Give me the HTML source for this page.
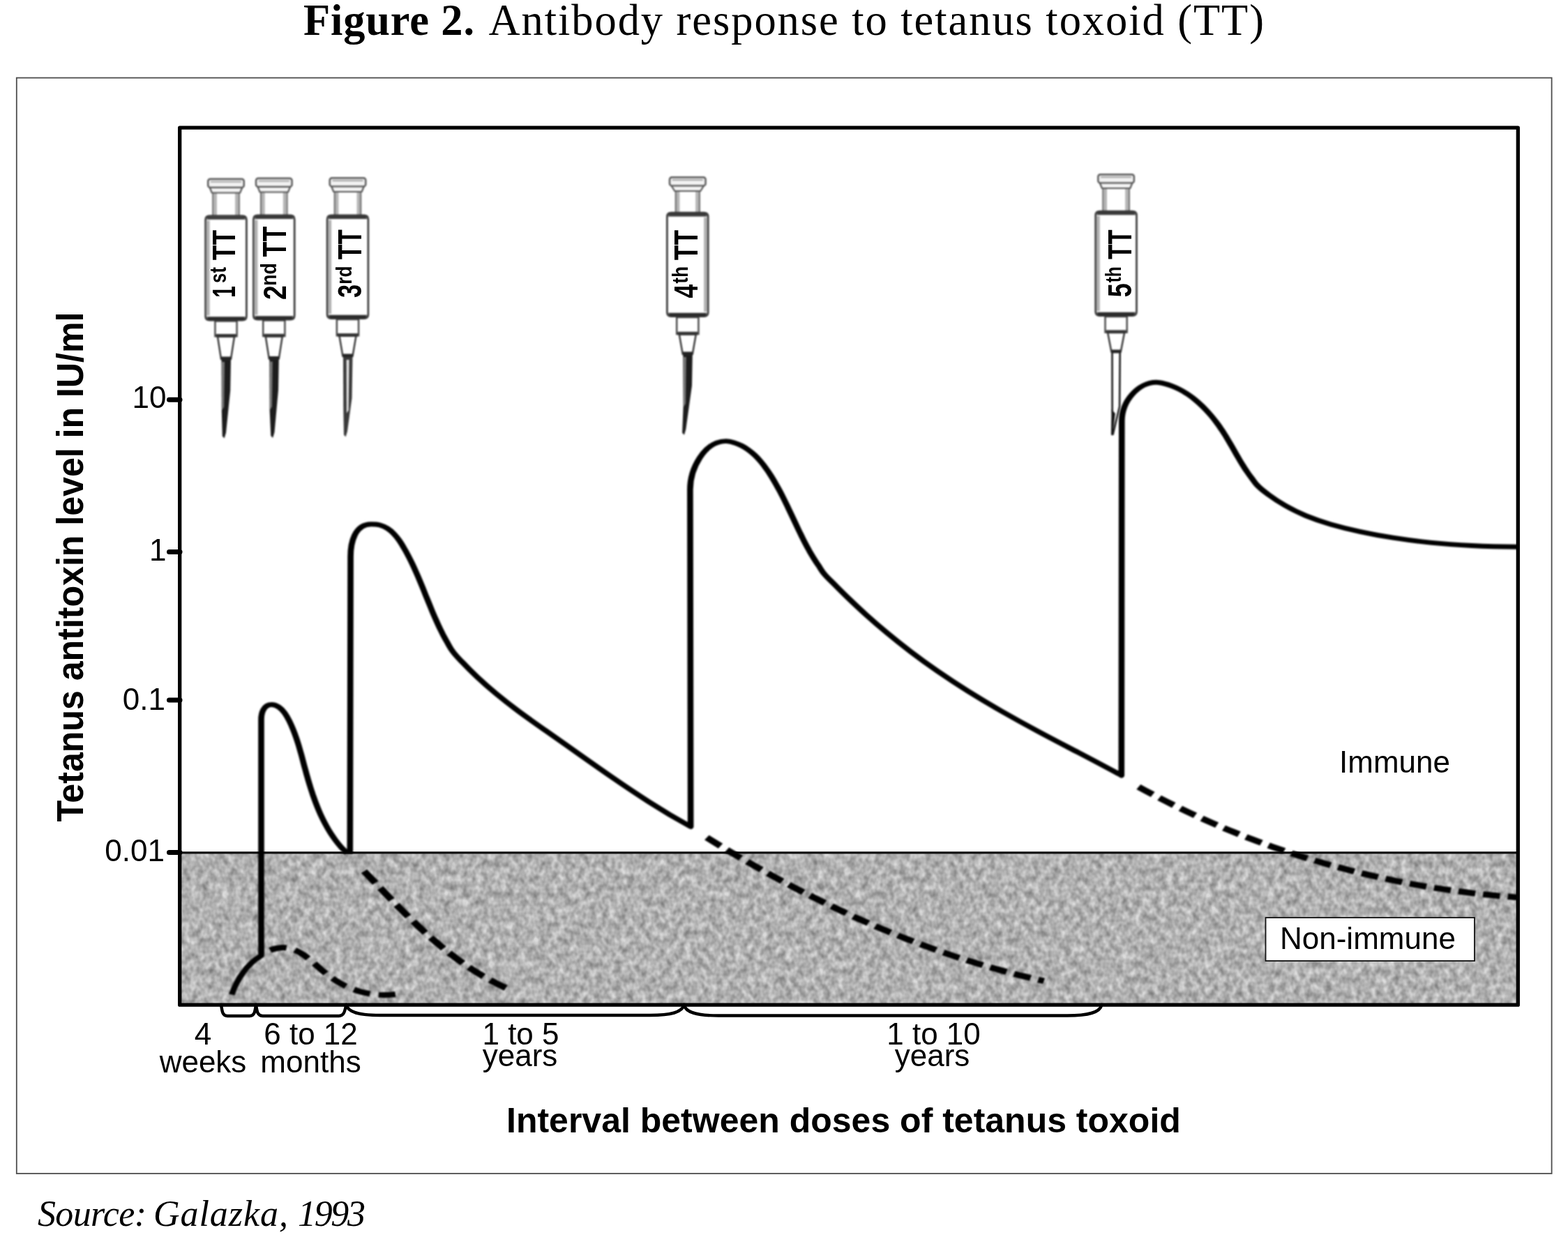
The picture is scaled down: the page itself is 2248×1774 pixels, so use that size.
<!DOCTYPE html>
<html lang="en">
<head>
<meta charset="utf-8">
<title>Figure 2. Antibody response to tetanus toxoid (TT)</title>
<style>
html,body{margin:0;padding:0;background:#fff;}
body{width:2248px;height:1774px;overflow:hidden;font-family:"Liberation Sans",sans-serif;}
svg{display:block;}
text{white-space:pre;}
</style>
</head>
<body>
<svg xmlns="http://www.w3.org/2000/svg" width="2248" height="1774" viewBox="0 0 2248 1774">
<defs>
<filter id="grain" x="0" y="0" width="100%" height="100%" color-interpolation-filters="sRGB">
<feTurbulence type="fractalNoise" baseFrequency="0.11 0.09" numOctaves="2" seed="7" result="n"/>
<feColorMatrix in="n" type="matrix" values="0.9 0 0 0 0.25  0.9 0 0 0 0.25  0.9 0 0 0 0.25  0 0 0 0 1"/>
</filter>
<filter id="soft" x="-2%" y="-2%" width="104%" height="104%" color-interpolation-filters="sRGB"><feGaussianBlur stdDeviation="1.0"/></filter>
<filter id="soft2" x="-10%" y="-5%" width="120%" height="110%" color-interpolation-filters="sRGB"><feGaussianBlur stdDeviation="0.9"/></filter>
<clipPath id="plotclip"><rect x="257.7" y="183.2" width="1918.6" height="1258"/></clipPath>
</defs>
<rect x="0" y="0" width="2248" height="1774" fill="#fff"/>

<!-- title -->
<text x="435" y="49.6" font-family="'Liberation Serif',serif" font-size="62.5" fill="#000"><tspan font-weight="bold" textLength="245" lengthAdjust="spacing">Figure 2.</tspan><tspan x="700.5" textLength="1111.5" lengthAdjust="spacing">Antibody response to tetanus toxoid (TT)</tspan></text>

<!-- outer frame -->
<rect x="23.8" y="111.6" width="2200.8" height="1571.4" fill="none" stroke="#4d4d4d" stroke-width="1.8"/>

<!-- non-immune zone -->
<rect x="258" y="1223" width="1918" height="218" fill="#b0b0b0"/>
<rect x="258" y="1223" width="1918" height="218" filter="url(#grain)" opacity="0.55"/>
<line x1="258" y1="1222.9" x2="2176" y2="1222.9" stroke="#111" stroke-width="3.2"/>

<!-- syringes -->
<g filter="url(#soft2)">
<path d="M317.5 515.0L331.0 515.0L330.2 560.0L324.0 620.6L321.6 628.6L318.8 625.6L317.8 588.6Z" fill="#1c1c1c"/>
<path d="M318.0 519.0L322.0 519.0L321.2 583.6L318.2 588.6Z" fill="#777"/>
<path d="M312.0 482.7L336.0 482.7L331.0 515.0L317.0 515.0Z" fill="#fff" stroke="#333" stroke-width="2.4" stroke-linejoin="round"/>
<path d="M317.0 511.5L331.0 511.5L331.0 516.0L317.0 516.0Z" fill="#222"/>
<rect x="308.4" y="460.5" width="31.2" height="21.7" fill="#fff" stroke="#444" stroke-width="2.4"/>
<rect x="309.5" y="479.0" width="29" height="4.6" fill="#333"/>
<rect x="305.3" y="275.5" width="37.4" height="34.7" fill="#fff" stroke="#6a6a6a" stroke-width="2.2"/>
<rect x="306.3" y="275.5" width="4.6" height="34.7" fill="#b4b4b4"/>
<rect x="337.1" y="275.5" width="4.6" height="34.7" fill="#b4b4b4"/>
<path d="M300.5 268.5L347.5 268.5L344.2 276.5L303.8 276.5Z" fill="#f4f4f4" stroke="#555" stroke-width="2.2" stroke-linejoin="round"/>
<rect x="298.2" y="256.7" width="51.6" height="12.2" rx="3.2" ry="3.2" fill="#f2f2f2" stroke="#555" stroke-width="2.4"/>
<path d="M302.0 260.7L346.0 260.7" stroke="#9a9a9a" stroke-width="1.8" fill="none"/>
<path d="M294.6 315.2Q294.6 309.5 300.6 309.5L347.4 309.5Q353.4 309.5 353.4 315.2L353.4 453.5Q353.4 459.2 347.4 459.2L300.6 459.2Q294.6 459.2 294.6 453.5Z" fill="#fff" stroke="#333" stroke-width="2.6"/>
<rect x="295.6" y="316.2" width="5.0" height="136.3" fill="#b0b0b0"/>
<path d="M297.6 310.4L350.4 310.4L351.9 314.8L296.1 314.8Z" fill="#3a3a3a"/>
<path d="M296.1 454.3L351.9 454.3L349.4 458.9L298.6 458.9Z" fill="#2a2a2a"/>
</g>
<g font-family="'Liberation Sans',sans-serif" font-weight="bold" fill="#000">
<text transform="translate(337.3 426.7) rotate(-90) scale(0.660 1.044)" font-size="45">1</text>
<text transform="translate(324.4 405.9) rotate(-90) scale(0.861 1.129)" font-size="30">st</text>
<text transform="translate(337.3 373.3) rotate(-90) scale(0.791 1.044)" font-size="45">TT</text>
</g>
<g filter="url(#soft2)">
<path d="M386.3 514.5L399.8 514.5L399.0 559.5L393.5 620.0L391.1 628.0L388.3 625.0L386.6 588.0Z" fill="#1c1c1c"/>
<path d="M386.8 518.5L390.8 518.5L390.0 583.0L387.0 588.0Z" fill="#777"/>
<path d="M380.8 482.5L404.8 482.5L399.8 514.5L385.8 514.5Z" fill="#fff" stroke="#333" stroke-width="2.4" stroke-linejoin="round"/>
<path d="M385.8 511.0L399.8 511.0L399.8 515.5L385.8 515.5Z" fill="#222"/>
<rect x="377.2" y="459.5" width="31.2" height="22.5" fill="#fff" stroke="#444" stroke-width="2.4"/>
<rect x="378.3" y="478.8" width="29" height="4.6" fill="#333"/>
<rect x="374.1" y="274.5" width="37.4" height="35.0" fill="#fff" stroke="#6a6a6a" stroke-width="2.2"/>
<rect x="375.1" y="274.5" width="4.6" height="35.0" fill="#b4b4b4"/>
<rect x="405.9" y="274.5" width="4.6" height="35.0" fill="#b4b4b4"/>
<path d="M369.3 267.5L416.3 267.5L413.0 275.5L372.6 275.5Z" fill="#f4f4f4" stroke="#555" stroke-width="2.2" stroke-linejoin="round"/>
<rect x="367.0" y="255.7" width="51.6" height="12.2" rx="3.2" ry="3.2" fill="#f2f2f2" stroke="#555" stroke-width="2.4"/>
<path d="M370.8 259.7L414.8 259.7" stroke="#9a9a9a" stroke-width="1.8" fill="none"/>
<path d="M363.4 314.5Q363.4 308.8 369.4 308.8L416.2 308.8Q422.2 308.8 422.2 314.5L422.2 452.5Q422.2 458.2 416.2 458.2L369.4 458.2Q363.4 458.2 363.4 452.5Z" fill="#fff" stroke="#333" stroke-width="2.6"/>
<rect x="364.4" y="315.5" width="5.0" height="136.0" fill="#b0b0b0"/>
<path d="M366.4 309.7L419.2 309.7L420.7 314.1L364.9 314.1Z" fill="#3a3a3a"/>
<path d="M364.9 453.3L420.7 453.3L418.2 457.9L367.4 457.9Z" fill="#2a2a2a"/>
</g>
<g font-family="'Liberation Sans',sans-serif" font-weight="bold" fill="#000">
<text transform="translate(409.8 429.9) rotate(-90) scale(0.829 1.045)" font-size="45">2</text>
<text transform="translate(396.1 409.8) rotate(-90) scale(0.887 1.062)" font-size="30">nd</text>
<text transform="translate(409.8 368.6) rotate(-90) scale(0.800 1.060)" font-size="45">TT</text>
</g>
<g filter="url(#soft2)">
<path d="M492.0 511.0L505.5 511.0L504.5 571.0L498.0 618.5L495.6 626.5L493.0 623.5L492.3 586.5Z" fill="#3a3a3a"/>
<path d="M496.7 516.0L500.5 516.0L499.7 588.5L496.9 592.5Z" fill="#e8e8e8"/>
<path d="M486.5 481.8L510.5 481.8L505.5 511.0L491.5 511.0Z" fill="#fff" stroke="#333" stroke-width="2.4" stroke-linejoin="round"/>
<path d="M491.5 507.5L505.5 507.5L505.5 512.0L491.5 512.0Z" fill="#222"/>
<rect x="482.9" y="458.0" width="31.2" height="23.3" fill="#fff" stroke="#444" stroke-width="2.4"/>
<rect x="484.0" y="478.1" width="29" height="4.6" fill="#333"/>
<rect x="479.8" y="274.0" width="37.4" height="35.5" fill="#fff" stroke="#6a6a6a" stroke-width="2.2"/>
<rect x="480.8" y="274.0" width="4.6" height="35.5" fill="#b4b4b4"/>
<rect x="511.6" y="274.0" width="4.6" height="35.5" fill="#b4b4b4"/>
<path d="M475.0 267.0L522.0 267.0L518.7 275.0L478.3 275.0Z" fill="#f4f4f4" stroke="#555" stroke-width="2.2" stroke-linejoin="round"/>
<rect x="472.7" y="255.2" width="51.6" height="12.2" rx="3.2" ry="3.2" fill="#f2f2f2" stroke="#555" stroke-width="2.4"/>
<path d="M476.5 259.2L520.5 259.2" stroke="#9a9a9a" stroke-width="1.8" fill="none"/>
<path d="M469.1 314.5Q469.1 308.8 475.1 308.8L521.9 308.8Q527.9 308.8 527.9 314.5L527.9 451.0Q527.9 456.7 521.9 456.7L475.1 456.7Q469.1 456.7 469.1 451.0Z" fill="#fff" stroke="#333" stroke-width="2.6"/>
<rect x="470.1" y="315.5" width="5.0" height="134.5" fill="#b0b0b0"/>
<path d="M472.1 309.7L524.9 309.7L526.4 314.1L470.6 314.1Z" fill="#3a3a3a"/>
<path d="M470.6 451.8L526.4 451.8L523.9 456.4L473.1 456.4Z" fill="#2a2a2a"/>
</g>
<g font-family="'Liberation Sans',sans-serif" font-weight="bold" fill="#000">
<text transform="translate(518.0 427.1) rotate(-90) scale(0.764 1.055)" font-size="45">3</text>
<text transform="translate(504.0 407.8) rotate(-90) scale(0.874 1.053)" font-size="30">rd</text>
<text transform="translate(518.0 372.3) rotate(-90) scale(0.787 1.070)" font-size="45">TT</text>
</g>
<g filter="url(#soft2)">
<path d="M979.3 508.0L992.8 508.0L992.0 553.0L983.3 615.7L980.9 623.7L978.1 620.7L979.6 583.7Z" fill="#1c1c1c"/>
<path d="M979.8 512.0L983.8 512.0L983.0 578.7L980.0 583.7Z" fill="#777"/>
<path d="M973.8 479.5L997.8 479.5L992.8 508.0L978.8 508.0Z" fill="#fff" stroke="#333" stroke-width="2.4" stroke-linejoin="round"/>
<path d="M978.8 504.5L992.8 504.5L992.8 509.0L978.8 509.0Z" fill="#222"/>
<rect x="970.2" y="455.0" width="31.2" height="24.0" fill="#fff" stroke="#444" stroke-width="2.4"/>
<rect x="971.3" y="475.8" width="29" height="4.6" fill="#333"/>
<rect x="968.8" y="273.0" width="34.0" height="32.8" fill="#fff" stroke="#6a6a6a" stroke-width="2.2"/>
<rect x="969.8" y="273.0" width="4.6" height="32.8" fill="#b4b4b4"/>
<rect x="997.2" y="273.0" width="4.6" height="32.8" fill="#b4b4b4"/>
<path d="M962.3 266.0L1009.3 266.0L1004.3 274.0L967.3 274.0Z" fill="#f4f4f4" stroke="#555" stroke-width="2.2" stroke-linejoin="round"/>
<rect x="960.0" y="254.2" width="51.6" height="12.2" rx="3.2" ry="3.2" fill="#f2f2f2" stroke="#555" stroke-width="2.4"/>
<path d="M963.8 258.2L1007.8 258.2" stroke="#9a9a9a" stroke-width="1.8" fill="none"/>
<path d="M956.4 310.8Q956.4 305.1 962.4 305.1L1009.2 305.1Q1015.2 305.1 1015.2 310.8L1015.2 448.0Q1015.2 453.7 1009.2 453.7L962.4 453.7Q956.4 453.7 956.4 448.0Z" fill="#fff" stroke="#333" stroke-width="2.6"/>
<rect x="1009.2" y="311.8" width="5.0" height="135.2" fill="#b0b0b0"/>
<path d="M959.4 306.0L1012.2 306.0L1013.7 310.4L957.9 310.4Z" fill="#3a3a3a"/>
<path d="M957.9 448.8L1013.7 448.8L1011.2 453.4L960.4 453.4Z" fill="#2a2a2a"/>
</g>
<g font-family="'Liberation Sans',sans-serif" font-weight="bold" fill="#000">
<text transform="translate(999.8 427.6) rotate(-90) scale(0.789 1.060)" font-size="45">4</text>
<text transform="translate(985.7 406.4) rotate(-90) scale(0.858 1.034)" font-size="30">th</text>
<text transform="translate(999.8 373.3) rotate(-90) scale(0.791 1.060)" font-size="45">TT</text>
</g>
<g filter="url(#soft2)">
<path d="M1594.5 505.0L1605.7 505.0L1605.1 583.0L1595.6 623.0L1594.2 623.0L1594.7 593.0Z" fill="#fff" stroke="#1a1a1a" stroke-width="2.6" stroke-linejoin="round"/>
<path d="M1593.6 587.0L1598.8 593.0L1595.2 623.0Z" fill="#111"/>
<path d="M1588.1 477.1L1612.1 477.1L1606.7 505.0L1593.5 505.0Z" fill="#fff" stroke="#333" stroke-width="2.4" stroke-linejoin="round"/>
<path d="M1593.5 501.5L1606.7 501.5L1606.7 506.0L1593.5 506.0Z" fill="#222"/>
<rect x="1584.5" y="454.0" width="31.2" height="22.6" fill="#fff" stroke="#444" stroke-width="2.4"/>
<rect x="1585.6" y="473.4" width="29" height="4.6" fill="#333"/>
<rect x="1581.4" y="269.0" width="37.4" height="34.7" fill="#fff" stroke="#6a6a6a" stroke-width="2.2"/>
<rect x="1582.4" y="269.0" width="4.6" height="34.7" fill="#b4b4b4"/>
<rect x="1613.2" y="269.0" width="4.6" height="34.7" fill="#b4b4b4"/>
<path d="M1576.6 262.0L1623.6 262.0L1620.3 270.0L1579.9 270.0Z" fill="#f4f4f4" stroke="#555" stroke-width="2.2" stroke-linejoin="round"/>
<rect x="1574.3" y="250.2" width="51.6" height="12.2" rx="3.2" ry="3.2" fill="#f2f2f2" stroke="#555" stroke-width="2.4"/>
<path d="M1578.1 254.2L1622.1 254.2" stroke="#9a9a9a" stroke-width="1.8" fill="none"/>
<path d="M1570.7 308.7Q1570.7 303.0 1576.7 303.0L1623.5 303.0Q1629.5 303.0 1629.5 308.7L1629.5 447.0Q1629.5 452.7 1623.5 452.7L1576.7 452.7Q1570.7 452.7 1570.7 447.0Z" fill="#fff" stroke="#333" stroke-width="2.6"/>
<rect x="1571.7" y="309.7" width="5.0" height="136.3" fill="#b0b0b0"/>
<path d="M1573.7 303.9L1626.5 303.9L1628.0 308.3L1572.2 308.3Z" fill="#3a3a3a"/>
<path d="M1572.2 447.8L1628.0 447.8L1625.5 452.4L1574.7 452.4Z" fill="#2a2a2a"/>
</g>
<g font-family="'Liberation Sans',sans-serif" font-weight="bold" fill="#000">
<text transform="translate(1622.2 426.3) rotate(-90) scale(0.800 1.057)" font-size="45">5</text>
<text transform="translate(1607.3 405.3) rotate(-90) scale(0.816 1.021)" font-size="30">th</text>
<text transform="translate(1622.2 372.1) rotate(-90) scale(0.780 1.057)" font-size="45">TT</text>
</g>

<!-- curves -->
<g clip-path="url(#plotclip)"><g filter="url(#soft)" fill="none" stroke="#000" stroke-linejoin="round" transform="scale(1.18 0.95)">
<path d="M281.53 1501.47C283.14 1495.58 285.08 1489.79 287.37 1484.21C289.75 1478.53 292.37 1473.16 295.34 1468.11C298.31 1462.95 301.61 1458.21 305.25 1453.89C308.98 1449.58 312.97 1445.79 317.37 1442.53L317.37 1086.32C317.37 1076.00 320.42 1063.68 330.08 1063.68C333.05 1063.68 336.10 1065.16 338.73 1067.37C341.44 1069.58 343.73 1072.74 345.85 1076.32C347.88 1079.89 349.75 1084.00 351.44 1088.21C353.05 1092.32 354.58 1096.53 355.93 1100.63C357.29 1104.84 358.56 1108.95 359.66 1112.95C360.85 1117.05 361.86 1121.16 362.88 1125.26C363.81 1129.26 364.75 1133.37 365.68 1137.47C366.61 1141.58 367.46 1145.58 368.31 1149.68C369.15 1153.79 370.08 1158.00 371.02 1162.11C371.86 1166.21 372.80 1170.42 373.81 1174.53C374.75 1178.74 375.76 1182.84 376.78 1187.05C377.80 1191.16 378.90 1195.26 380.00 1199.47C381.19 1203.58 382.29 1207.68 383.56 1211.68C384.83 1215.79 386.10 1219.79 387.46 1223.79C388.81 1227.79 390.25 1231.68 391.78 1235.58C393.31 1239.47 394.92 1243.26 396.61 1247.05C398.22 1250.84 400.00 1254.53 401.86 1258.11C403.73 1261.68 405.68 1265.16 407.80 1268.63C409.83 1272.11 412.03 1275.37 414.32 1278.63C416.61 1281.89 419.24 1284.74 421.61 1287.89" stroke-width="7.3"/>
<path d="M425.25 1288.95L425.93 840.00C425.93 819.58 430.85 791.37 450.85 791.37C454.49 791.37 458.22 791.58 461.53 792.63C464.83 793.79 467.88 795.47 470.68 797.68C473.47 799.89 476.02 802.63 478.39 805.58C480.76 808.63 482.88 812.00 484.92 815.58C486.95 819.16 488.81 822.95 490.59 826.84C492.46 830.63 494.15 834.53 495.76 838.42C497.46 842.42 499.07 846.32 500.59 850.32C502.12 854.21 503.56 858.21 505.00 862.32C506.44 866.32 507.88 870.32 509.24 874.32C510.59 878.42 511.95 882.42 513.31 886.42C514.58 890.53 515.93 894.53 517.20 898.63C518.56 902.63 519.83 906.63 521.19 910.63C522.46 914.63 523.81 918.63 525.08 922.63C526.44 926.63 527.80 930.63 529.24 934.53C530.59 938.42 532.03 942.32 533.47 946.21C535.00 950.00 536.53 953.89 538.05 957.68C539.66 961.37 541.27 965.16 542.97 968.84C544.66 972.53 546.27 976.42 548.14 980.00C552.71 988.74 557.20 993.68 561.78 999.68C567.88 1007.79 573.98 1015.26 580.08 1022.42C587.80 1031.37 595.42 1039.68 603.14 1047.58C612.29 1057.05 621.53 1065.89 630.76 1074.32C641.53 1084.21 652.29 1093.58 663.14 1103.05C675.42 1113.79 687.80 1124.63 700.08 1135.47C713.98 1147.68 727.88 1159.89 741.78 1171.79C757.20 1185.05 772.71 1198.00 788.14 1210.21C805.17 1223.79 822.12 1236.32 839.15 1247.89L838.47 738.95C838.47 708.11 855.34 665.89 882.20 665.89C885.51 665.89 888.81 667.16 892.03 668.32C895.17 669.58 898.31 671.16 901.19 672.95C904.15 674.84 906.86 676.95 909.58 679.47C912.29 681.89 914.83 684.53 917.29 687.47C919.66 690.32 922.03 693.47 924.24 696.74C926.53 700.00 928.64 703.47 930.68 707.05C932.80 710.53 934.75 714.21 936.61 718.00C938.56 721.79 940.34 725.58 942.12 729.37C943.90 733.26 945.59 737.16 947.29 740.95C948.90 744.84 950.51 748.74 952.12 752.63C953.64 756.53 955.17 760.42 956.69 764.21C958.14 768.11 959.66 772.00 961.10 775.89C962.54 779.68 964.07 783.58 965.51 787.37C966.95 791.26 968.39 795.05 969.83 798.84C971.27 802.63 972.80 806.42 974.32 810.21C975.76 813.89 977.29 817.68 978.90 821.37C980.42 825.05 982.03 828.63 983.64 832.32C985.34 835.89 987.03 839.47 988.81 842.95C990.59 846.53 992.37 850.00 994.32 853.37C996.19 856.84 997.97 860.84 1000.00 864.21C1004.49 871.47 1008.98 876.00 1013.47 881.68C1019.24 889.05 1025.08 896.21 1030.85 903.16C1037.97 911.68 1045.08 919.89 1052.12 927.89C1060.51 937.26 1068.90 946.32 1077.29 954.95C1086.95 964.95 1096.69 974.53 1106.36 983.68C1117.37 994.11 1128.31 1003.89 1139.32 1013.37C1151.61 1023.89 1163.90 1033.89 1176.19 1043.47C1189.75 1054.00 1203.31 1064.00 1216.95 1073.68C1231.78 1084.21 1246.69 1094.42 1261.61 1104.32C1277.71 1115.05 1293.90 1125.47 1310.08 1136.00C1327.63 1147.26 1345.08 1158.95 1362.54 1170.53L1362.97 635.79C1362.97 605.16 1383.22 577.16 1404.92 577.16C1408.14 577.16 1411.36 578.11 1414.49 579.05C1417.71 580.00 1420.85 581.26 1423.90 582.74C1426.95 584.21 1430.00 585.89 1432.97 587.79C1435.85 589.58 1438.73 591.68 1441.53 593.89C1444.32 596.21 1447.12 598.63 1449.75 601.16C1452.37 603.79 1455.00 606.42 1457.46 609.37C1460.00 612.21 1462.46 615.16 1464.83 618.21C1467.20 621.26 1469.49 624.53 1471.69 627.79C1473.90 631.05 1476.02 634.42 1478.05 637.79C1480.17 641.16 1482.12 644.63 1483.98 648.21C1485.93 651.68 1487.71 655.26 1489.49 658.74C1491.19 662.32 1492.97 665.89 1494.58 669.47C1496.27 673.05 1497.88 676.63 1499.58 680.21C1501.19 683.79 1502.80 687.37 1504.49 690.84C1506.10 694.42 1507.80 697.89 1509.58 701.37C1511.27 704.84 1513.05 708.21 1514.83 711.58C1516.69 714.95 1518.56 718.21 1520.59 721.47C1522.63 724.74 1524.49 728.42 1526.69 731.47C1531.69 738.32 1536.61 742.53 1541.61 747.05C1548.22 753.16 1554.92 758.42 1561.53 763.16C1569.92 769.16 1578.31 774.11 1586.61 778.53C1596.69 783.68 1606.78 787.89 1616.78 791.47C1628.56 795.68 1640.34 799.26 1652.12 802.42C1665.51 806.00 1678.98 809.16 1692.46 811.79C1707.54 814.74 1722.71 817.16 1737.88 819.05C1754.75 821.16 1771.61 822.63 1788.39 823.68C1806.95 824.84 1825.51 825.37 1844.07 825.58" stroke-width="7.3"/>
<path d="M328.14 1434.42C333.47 1431.79 338.47 1430.63 343.14 1430.53C347.88 1430.42 352.20 1431.47 356.36 1433.26C360.51 1435.16 364.41 1437.79 368.14 1440.95C371.95 1444.00 375.59 1447.68 379.15 1451.47C382.80 1455.37 386.36 1459.37 390.00 1463.37C393.64 1467.26 397.29 1471.05 401.10 1474.53C404.92 1478.00 408.81 1481.16 412.88 1484.00C416.86 1486.84 421.02 1489.37 425.25 1491.58C429.49 1493.79 433.81 1495.58 438.22 1497.16C442.63 1498.63 447.20 1499.79 451.78 1500.63C456.36 1501.47 461.10 1501.89 465.85 1502.00C470.68 1502.00 475.51 1501.68 480.42 1501.05" stroke-width="8.4" stroke-dasharray="20.50 10.79"/>
<path d="M442.29 1315.05C446.95 1321.05 451.69 1327.16 456.36 1333.26C461.10 1339.37 465.76 1345.47 470.51 1351.58C475.25 1357.68 480.00 1363.79 484.83 1369.79C489.66 1375.79 494.49 1381.79 499.32 1387.68C504.24 1393.58 509.15 1399.37 514.15 1405.05C519.15 1410.84 524.24 1416.42 529.41 1421.89C534.58 1427.37 539.83 1432.74 545.08 1438.00C550.42 1443.16 555.85 1448.21 561.44 1453.05C566.95 1458.00 572.54 1462.63 578.39 1467.16C584.15 1471.58 590.00 1475.89 596.02 1479.89C602.12 1484.00 608.22 1487.79 614.58 1491.37" stroke-width="9.0" stroke-dasharray="22.50 9.75"/>
<path d="M858.73 1264.42C865.68 1269.79 872.80 1275.16 879.83 1280.42C886.95 1285.68 894.07 1290.95 901.27 1296.11C908.39 1301.26 915.59 1306.42 922.80 1311.37C930.00 1316.42 937.29 1321.47 944.58 1326.32C951.86 1331.26 959.15 1336.11 966.53 1340.84C973.90 1345.58 981.27 1350.21 988.64 1354.84C996.10 1359.47 1003.56 1364.00 1011.02 1368.42C1018.47 1372.95 1026.02 1377.26 1033.56 1381.58C1041.02 1385.89 1048.64 1390.00 1056.19 1394.11C1063.81 1398.32 1071.44 1402.32 1079.07 1406.21C1086.78 1410.11 1094.49 1414.00 1102.20 1417.68C1109.92 1421.47 1117.63 1425.16 1125.42 1428.63C1133.14 1432.21 1141.02 1435.68 1148.81 1439.05C1156.61 1442.32 1164.49 1445.58 1172.37 1448.74C1180.25 1451.89 1188.22 1454.84 1196.10 1457.79C1204.07 1460.74 1212.03 1463.47 1220.08 1466.21C1228.05 1468.84 1236.10 1471.47 1244.15 1473.89C1252.20 1476.42 1260.25 1478.74 1268.39 1480.95" stroke-width="9.0" stroke-dasharray="21 9.6"/>
<path d="M1383.31 1187.79C1390.76 1192.95 1398.22 1197.89 1405.76 1202.74C1413.31 1207.58 1420.85 1212.32 1428.47 1216.95C1436.10 1221.58 1443.73 1226.21 1451.44 1230.53C1459.15 1234.95 1466.86 1239.26 1474.66 1243.47C1482.46 1247.68 1490.25 1251.79 1498.14 1255.68C1506.02 1259.68 1513.90 1263.58 1521.86 1267.26C1529.75 1271.05 1537.71 1274.63 1545.76 1278.21C1553.73 1281.68 1561.78 1285.05 1569.83 1288.42C1577.88 1291.68 1586.02 1294.84 1594.15 1297.89C1602.29 1300.95 1610.42 1303.89 1618.56 1306.74C1626.78 1309.58 1635.00 1312.21 1643.22 1314.84C1651.44 1317.47 1659.66 1319.89 1667.97 1322.32C1676.27 1324.63 1684.49 1326.84 1692.88 1329.05C1701.19 1331.16 1709.49 1333.16 1717.88 1335.05C1726.19 1336.95 1734.58 1338.74 1742.97 1340.42C1751.36 1342.00 1759.75 1343.58 1768.14 1344.95C1776.53 1346.42 1784.92 1347.68 1793.39 1348.95C1801.78 1350.11 1810.25 1351.16 1818.64 1352.11C1827.12 1353.05 1835.59 1353.89 1843.98 1354.63" stroke-width="9.0" stroke-dasharray="20.8 9.4"/>
</g></g>

<!-- plot frame -->
<rect x="257.7" y="183.2" width="1918.6" height="1258" fill="none" stroke="#000" stroke-width="5.3" stroke-linejoin="round"/>

<!-- y ticks -->
<g stroke="#000" stroke-width="7" stroke-linecap="round">
<line x1="242.5" y1="573.3" x2="258" y2="573.3"/>
<line x1="242.5" y1="791.6" x2="258" y2="791.6"/>
<line x1="242.5" y1="1004" x2="258" y2="1004"/>
<line x1="242.5" y1="1222.4" x2="258" y2="1222.4"/>
</g>
<g font-family="'Liberation Sans',sans-serif" font-size="44" fill="#000" text-anchor="end">
<text x="238.5" y="585">10</text>
<text x="238.5" y="803.5">1</text>
<text x="237" y="1018.3">0.1</text>
<text x="236" y="1235.3">0.01</text>
</g>

<!-- y axis title -->
<text transform="translate(118.8 1178.5) rotate(-90) scale(1 1.05)" font-family="'Liberation Sans',sans-serif" font-weight="bold" font-size="50.2" fill="#000" textLength="731" lengthAdjust="spacing">Tetanus antitoxin level in IU/ml</text>

<!-- zone labels -->
<text x="1920" y="1108" font-family="'Liberation Sans',sans-serif" font-size="44" fill="#000">Immune</text>
<rect x="1814.5" y="1316" width="299.5" height="62" fill="#fff" stroke="#111" stroke-width="1.8"/>
<text x="1835" y="1360.6" font-family="'Liberation Sans',sans-serif" font-size="44" fill="#000">Non-immune</text>

<!-- interval brackets -->
<g fill="none" stroke="#000" stroke-width="4.4" stroke-linecap="round" stroke-linejoin="round">
<path d="M317 1441C318.5 1448 318 1457 326 1457L358 1457C366 1457 365.5 1448 367 1441"/>
<path d="M367 1441C368.5 1448 368 1457 377 1457L486 1457C494 1457 494.5 1448 496.3 1441"/>
<path d="M496.3 1441C499 1452 515 1456 545 1456L932 1456C962 1456 978 1452 980.6 1441"/>
<path d="M980.6 1441C983 1452 999 1456.5 1030 1456.5L1530 1456.5C1561 1456.5 1577 1452 1579.5 1441"/>
</g>

<!-- interval labels -->
<g font-family="'Liberation Sans',sans-serif" font-size="44" fill="#000" text-anchor="middle">
<text x="291" y="1497.6">4</text>
<text x="291" y="1538.2">weeks</text>
<text x="445.5" y="1497.6">6 to 12</text>
<text x="445.5" y="1538.2">months</text>
<text x="746.5" y="1497.6">1 to 5</text>
<text x="745.5" y="1529.4">years</text>
<text x="1338.5" y="1497.6">1 to 10</text>
<text x="1336.5" y="1529.2">years</text>
</g>

<!-- x axis title -->
<text x="726" y="1623.6" font-family="'Liberation Sans',sans-serif" font-weight="bold" font-size="50" fill="#000">Interval between doses of tetanus toxoid</text>

<!-- source -->
<text y="1757.8" font-family="'Liberation Serif',serif" font-style="italic" font-size="52" fill="#000"><tspan x="54" textLength="156" lengthAdjust="spacing">Source:</tspan><tspan x="220" textLength="193" lengthAdjust="spacing">Galazka,</tspan><tspan x="427" textLength="97" lengthAdjust="spacing">1993</tspan></text>
</svg>
</body>
</html>
